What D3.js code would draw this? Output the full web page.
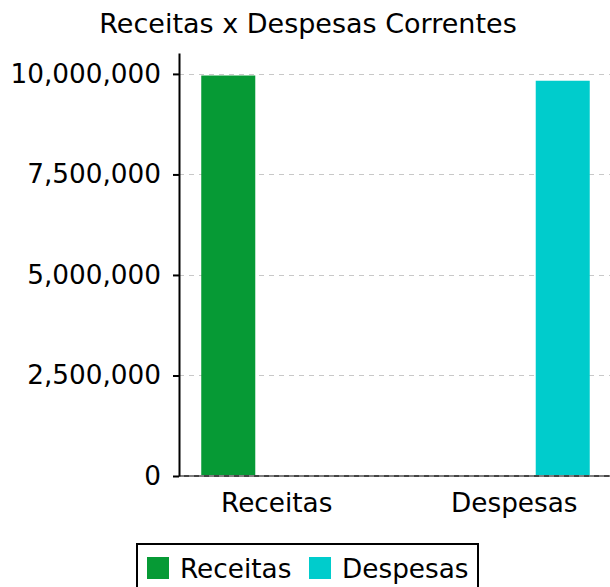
<!DOCTYPE html>
<html>
<head>
<meta charset="utf-8">
<script src="https://cdn.jsdelivr.net/npm/d3@7"></script>
<style>
  body { margin: 0; background: #fff; }
  svg { display: block; font-family: "DejaVu Sans", sans-serif; }
</style>
</head>
<body>
<div id="chart"></div>
<script>
// Receitas x Despesas Correntes - grouped bar chart

const categories = ['Receitas', 'Despesas'];
const seriesNames = ['Receitas', 'Despesas'];
// one value per category for each series (null where the series has no bar)
const receitasValues = [9960000, null];
const despesasValues = [null, 9830000];
const yTicks = [0, 2500000, 5000000, 7500000, 10000000];
const colors = ['#069a35', '#00cccc'];

const width = 610, height = 587;
const fontSize = 26.3;
const margin = { top: 53, left: 179, bottom: 111 };

const svg = d3.select('#chart')
    .append('svg')
    .attr('width', width)
    .attr('height', height);

const plotBottom = height - margin.bottom;

// Scales
const x0 = d3.scaleBand()
    .domain(categories)
    .range([158, 633]);

const x1 = d3.scaleBand()
    .domain(seriesNames)
    .range([0, x0.bandwidth()])
    .paddingInner(0.443)
    .paddingOuter(0.446);

const y = d3.scaleLinear()
    .domain([0, 10520000])
    .range([plotBottom, margin.top]);

const tableRows = categories.map((c, i) => ({
    category: c,
    values: [receitasValues[i], despesasValues[i]]
}));

// Title
svg.append('text')
    .attr('x', 308)
    .attr('y', 33)
    .attr('text-anchor', 'middle')
    .attr('font-size', 27)
    .attr('fill', '#000')
    .text('Receitas x Despesas Correntes');

// Grid lines
svg.append('g')
    .selectAll('line')
    .data(yTicks)
    .join('line')
    .attr('x1', margin.left)
    .attr('x2', width)
    .attr('y1', d => Math.round(y(d)) + 0.5)
    .attr('y2', d => Math.round(y(d)) + 0.5)
    .attr('stroke', '#c8c8c8')
    .attr('stroke-dasharray', '5,5');

// Bars
const groups = svg.append('g')
    .selectAll('g')
    .data(tableRows)
    .join('g')
    .attr('transform', d => `translate(${x0(d.category)},0)`);

groups.selectAll('rect')
    .data(d => d.values.map((v, i) => ({ key: seriesNames[i], value: v, i })).filter(e => e.value != null))
    .join('rect')
    .attr('x', d => x1(d.key))
    .attr('width', x1.bandwidth())
    .attr('y', d => y(d.value))
    .attr('height', d => plotBottom - y(d.value))
    .attr('fill', d => colors[d.i]);

// X axis baseline (dark line with dashed grid over it)
svg.append('line')
    .attr('x1', margin.left)
    .attr('x2', width)
    .attr('y1', plotBottom)
    .attr('y2', plotBottom)
    .attr('stroke', '#444')
    .attr('stroke-width', 2);
svg.append('line')
    .attr('x1', margin.left)
    .attr('x2', width)
    .attr('y1', plotBottom)
    .attr('y2', plotBottom)
    .attr('stroke', '#bbb')
    .attr('stroke-width', 1)
    .attr('stroke-dasharray', '5,5');

// X labels
const xAxis = d3.axisBottom(x0).tickSize(0).tickPadding(0);
const gx = svg.append('g')
    .attr('transform', `translate(0,${plotBottom})`)
    .call(xAxis);
gx.select('.domain').remove();
gx.selectAll('text')
    .attr('font-size', fontSize)
    .attr('font-family', 'DejaVu Sans')
    .attr('fill', '#000')
    .attr('dy', null)
    .attr('y', 36);

// Y axis
const yAxis = d3.axisLeft(y)
    .tickValues(yTicks)
    .tickFormat(d3.format(','))
    .tickSize(6)
    .tickPadding(12)
    .tickSizeOuter(0);
const gy = svg.append('g')
    .attr('transform', `translate(${margin.left},0)`)
    .call(yAxis);
gy.select('.domain').attr('stroke', '#000').attr('stroke-width', 2);
gy.selectAll('.tick line').attr('stroke', '#000').attr('stroke-width', 2);
gy.selectAll('text')
    .attr('font-size', fontSize)
    .attr('font-family', 'DejaVu Sans')
    .attr('fill', '#000');

// Legend
const legend = svg.append('g').attr('transform', 'translate(137,544)');
legend.append('rect')
    .attr('width', 341)
    .attr('height', 60)
    .attr('fill', '#fff')
    .attr('stroke', '#000')
    .attr('stroke-width', 2);
const legendX = [10, 172];
const items = legend.selectAll('g.item')
    .data(seriesNames)
    .join('g')
    .attr('class', 'item')
    .attr('transform', (d, i) => `translate(${legendX[i]},13)`);
items.append('rect')
    .attr('width', 22)
    .attr('height', 22)
    .attr('fill', (d, i) => colors[i]);
items.append('text')
    .attr('x', 33)
    .attr('y', 21)
    .attr('font-size', fontSize)
    .attr('fill', '#000')
    .text(d => d);
</script>
</body>
</html>
